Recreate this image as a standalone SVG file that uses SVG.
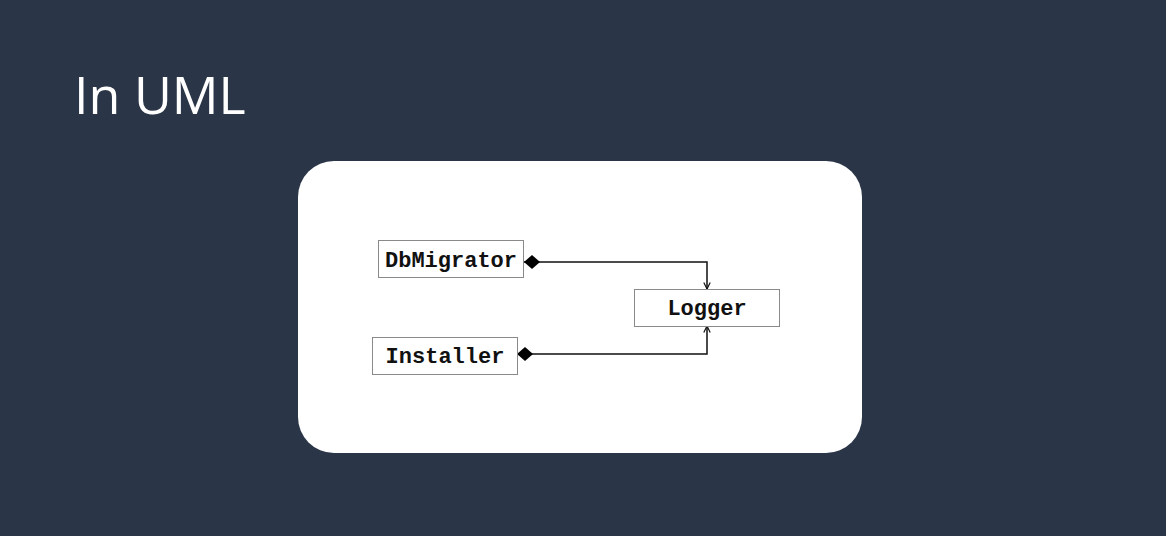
<svg xmlns="http://www.w3.org/2000/svg" width="1166" height="536" viewBox="0 0 1166 536">
<defs>
<style>
.box{fill:#ffffff;stroke:#8a8a8a;stroke-width:1}
.lbl{font-family:"Liberation Mono","Courier New",monospace;font-weight:bold;font-size:22px;fill:#111;text-anchor:middle}
.conn{fill:none;stroke:#111;stroke-width:1.5}
</style>
<marker id="dia" viewBox="0 0 16 14" refX="0" refY="7" markerWidth="16" markerHeight="14" markerUnits="userSpaceOnUse" orient="auto">
<path d="M0,7 L8,0 L16,7 L8,14 Z" fill="#000"/>
</marker>
<marker id="arr" viewBox="0 0 10 10" refX="9" refY="5" markerWidth="8" markerHeight="8" markerUnits="userSpaceOnUse" orient="auto">
<path d="M1,1 L9,5 L1,9" fill="none" stroke="#111" stroke-width="1.5"/>
</marker>
</defs>
<rect width="1166" height="536" fill="#2a3547"/>
<text x="74" y="114" font-family="'Open Sans',sans-serif" font-size="52" fill="#ffffff">In UML</text>
<rect x="298" y="161" width="564" height="292" rx="36" fill="#ffffff"/>
<g id="connectors">
<path class="conn" d="M524,262 H707 V289" marker-start="url(#dia)" marker-end="url(#arr)"/>
<path class="conn" d="M517,354 H707 V326" marker-start="url(#dia)" marker-end="url(#arr)"/>
</g>
<g id="dbmigrator">
<rect class="box" x="378.5" y="240.5" width="145" height="37"/>
<text class="lbl" x="451" y="267">DbMigrator</text>
</g>
<g id="installer">
<rect class="box" x="372.5" y="337.5" width="145" height="37"/>
<text class="lbl" x="445" y="363">Installer</text>
</g>
<g id="logger">
<rect class="box" x="634.5" y="289.5" width="145" height="37"/>
<text class="lbl" x="707" y="315">Logger</text>
</g>
</svg>
